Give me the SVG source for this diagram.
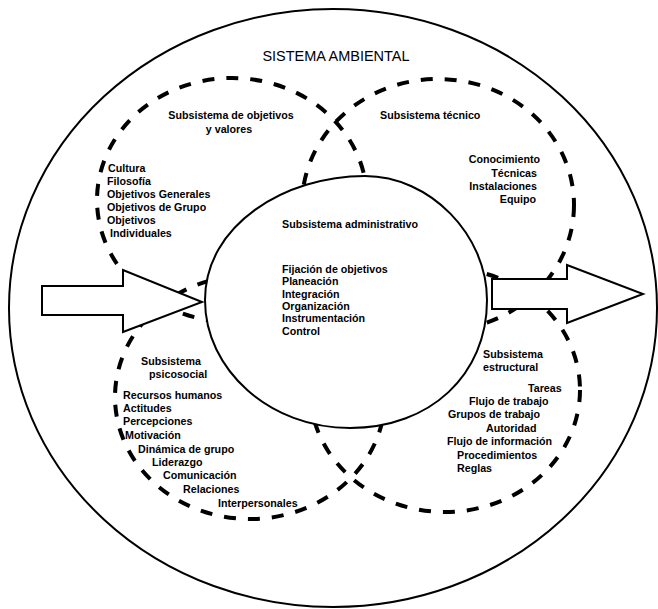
<svg xmlns="http://www.w3.org/2000/svg" width="658" height="609" viewBox="0 0 658 609">
<style>
.t{font-family:"Liberation Sans",Arial,Helvetica,sans-serif;font-size:10.7px;font-weight:bold;fill:#000}
.title{font-family:"Liberation Sans",Arial,Helvetica,sans-serif;font-size:14.5px;fill:#000}
.dash{fill:none;stroke:#000;stroke-width:4;stroke-dasharray:12 12}
.solid{fill:none;stroke:#000;stroke-width:2}
.filled{fill:#fff;stroke:#000;stroke-width:2;stroke-linejoin:miter}
.e{text-anchor:end}
.m{text-anchor:middle}
</style>
<rect x="0" y="0" width="658" height="609" fill="#fff"/>
<g id="sistema-ambiental">
<ellipse class="solid" cx="333" cy="308" rx="324" ry="299"/>
<text class="title m" x="336" y="61">SISTEMA  AMBIENTAL</text>
</g>
<g id="subsistema-objetivos">
<ellipse class="dash" cx="232" cy="200" rx="135" ry="122"/>
<text class="t m" x="231" y="119">Subsistema de objetivos</text>
<text class="t m" x="229" y="133">y valores</text>
<text class="t" x="108" y="172">Cultura</text>
<text class="t" x="107" y="185">Filosofía</text>
<text class="t" x="107" y="198">Objetivos Generales</text>
<text class="t" x="107" y="211">Objetivos de Grupo</text>
<text class="t" x="107" y="224">Objetivos</text>
<text class="t" x="110" y="237">Individuales</text>
</g>
<g id="subsistema-tecnico">
<ellipse class="dash" cx="438" cy="205" rx="136" ry="126"/>
<text class="t" x="380" y="119">Subsistema técnico</text>
<text class="t e" x="540" y="163">Conocimiento</text>
<text class="t e" x="537" y="176.5">Técnicas</text>
<text class="t e" x="537" y="190">Instalaciones</text>
<text class="t e" x="536" y="203">Equipo</text>
</g>
<g id="subsistema-psicosocial">
<ellipse class="dash" cx="250" cy="397" rx="135" ry="122"/>
<text class="t" x="141" y="365">Subsistema</text>
<text class="t" x="149" y="378">psicosocial</text>
<text class="t" x="123" y="399">Recursos humanos</text>
<text class="t" x="123" y="412">Actitudes</text>
<text class="t" x="123" y="425">Percepciones</text>
<text class="t" x="125" y="439">Motivación</text>
<text class="t" x="138" y="453">Dinámica de grupo</text>
<text class="t" x="152" y="466">Liderazgo</text>
<text class="t" x="163" y="479">Comunicación</text>
<text class="t" x="183" y="493">Relaciones</text>
<text class="t" x="218" y="507">Interpersonales</text>
</g>
<g id="subsistema-estructural">
<ellipse class="dash" cx="445" cy="390" rx="135" ry="122"/>
<text class="t" x="483" y="358">Subsistema</text>
<text class="t" x="483" y="371">estructural</text>
<text class="t" x="528" y="392">Tareas</text>
<text class="t" x="469" y="405">Flujo de trabajo</text>
<text class="t" x="448" y="418">Grupos de trabajo</text>
<text class="t" x="486" y="432">Autoridad</text>
<text class="t" x="447" y="445">Flujo de información</text>
<text class="t" x="457" y="459">Procedimientos</text>
<text class="t" x="457" y="472">Reglas</text>
</g>
<g id="subsistema-administrativo">
<path class="filled" d="M205,300 C205,225 285,176 365,176 C430,176 487,235 487,300 C487,375 430,428 350,428 C270,428 205,370 205,300 Z"/>
<text class="t" x="282" y="228">Subsistema administrativo</text>
<text class="t" x="282" y="273">Fijación de objetivos</text>
<text class="t" x="282" y="285.3">Planeación</text>
<text class="t" x="282" y="297.6">Integración</text>
<text class="t" x="282" y="309.9">Organización</text>
<text class="t" x="282" y="322.2">Instrumentación</text>
<text class="t" x="282" y="334.5">Control</text>
</g>
<g id="connectors">
<polygon id="entrada" class="filled" points="42,286 123,286 123,270 202,302 123,332 123,315 42,315"/>
<polygon id="salida" class="filled" points="492,279 567,279 567,265 643,294 567,323 567,309 492,309"/>
</g>
</svg>
